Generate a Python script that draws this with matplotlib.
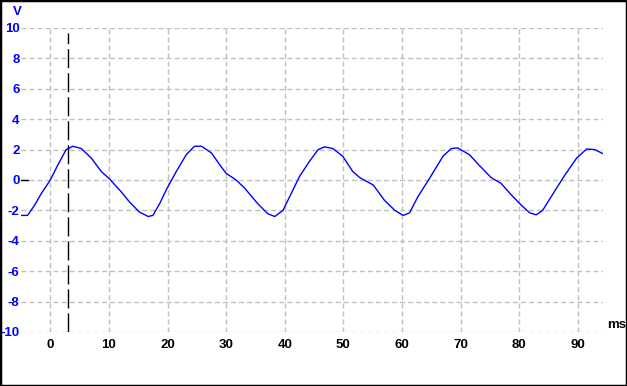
import matplotlib
matplotlib.use("Agg")
import matplotlib.pyplot as plt
from matplotlib.patches import Rectangle

# waveform (time in ms, voltage in V)
t_ms = [-4.95, -3.9, -2.7, -1.54, 0.0, 1.3, 2.7, 3.86, 5.3, 7.0, 8.7, 10.1,
        12.1, 13.5, 15.2, 16.7, 17.5, 18.65, 19.9, 21.5, 23.2, 24.6, 25.8,
        27.5, 28.9, 30.0, 31.7, 33.1, 35.4, 37.1, 38.3, 39.7, 41.1, 42.5,
        44.2, 45.7, 46.8, 48.2, 49.9, 51.6, 52.8, 55.1, 57.0, 58.8, 60.2,
        61.3, 62.7, 64.7, 67.0, 68.4, 69.5, 71.5, 73.1, 75.2, 76.9, 78.7,
        80.4, 81.8, 82.9, 84.0, 85.8, 87.8, 89.8, 91.5, 92.9, 94.3]
volts = [-2.33, -2.33, -1.67, -0.89, 0.0, 1.0, 2.0, 2.22, 2.07, 1.44, 0.56, 0.07,
         -0.78, -1.44, -2.11, -2.4, -2.33, -1.56, -0.56, 0.56, 1.67, 2.22, 2.22,
         1.78, 1.0, 0.44, 0.0, -0.51, -1.56, -2.22, -2.4, -2.0, -0.89, 0.22,
         1.22, 2.0, 2.18, 2.07, 1.56, 0.56, 0.16, -0.33, -1.33, -2.0, -2.33,
         -2.16, -1.11, 0.11, 1.56, 2.07, 2.11, 1.67, 1.0, 0.16, -0.22, -1.0,
         -1.67, -2.16, -2.29, -2.0, -0.89, 0.33, 1.44, 2.04, 2.0, 1.73]

cursor_t = 3.0
x_ticks = [0, 10, 20, 30, 40, 50, 60, 70, 80, 90]
y_ticks = [-10, -8, -6, -4, -2, 0, 2, 4, 6, 8, 10]

plt.rcParams['lines.scale_dashes'] = False
plt.rcParams['axes.unicode_minus'] = False
plt.rcParams['font.family'] = ['Liberation Sans', 'DejaVu Sans']

fig = plt.figure(figsize=(6.27, 3.86), dpi=100)
ax = fig.add_axes([21 / 627, 54 / 386, 582 / 627, 304 / 386])

ax.set_xlim(-5, 94.3)
ax.set_ylim(-10, 10)

# grid
for y in y_ticks:
    ax.axhline(y, color='#c0c0c0', lw=1.0, dashes=(3.6, 2.2), zorder=1)
for x in x_ticks:
    ax.axvline(x, color='#c0c0c0', lw=1.0, dashes=(3.6, 2.2), zorder=1)

# zero marker
ax.axhline(0, xmin=0, xmax=0.012, color='black', lw=1.0, zorder=2)

# cursor
ax.plot([cursor_t, cursor_t], [-10, 9.7], color='black', lw=1.0,
        dashes=(13.7, 3.6), zorder=2)

ax.plot(t_ms, volts, color='#0000ff', lw=1.0, zorder=3)

for s in ax.spines.values():
    s.set_visible(False)

ax.set_xticks(x_ticks)
ax.set_yticks(y_ticks)
ax.tick_params(length=0)
ax.tick_params(axis='x', pad=5, labelsize=9.5, labelcolor='black')
ax.tick_params(axis='y', pad=1, labelsize=9.5, labelcolor='#0000ff')
for lbl in ax.get_xticklabels() + ax.get_yticklabels():
    lbl.set_fontweight('bold')

fig.text(17 / 627, 1 - 12 / 386, 'V', color='#0000ff', fontsize=9.5,
         fontweight='bold', ha='center', va='center')
fig.text(617 / 627, 1 - 325 / 386, 'ms', color='black', fontsize=9.5,
         fontweight='bold', ha='center', va='center')

fig.patches.append(Rectangle((0, 0), 1, 1, transform=fig.transFigure,
                             fill=False, edgecolor='black', lw=2.5))

fig.savefig('out.png', dpi=100)
